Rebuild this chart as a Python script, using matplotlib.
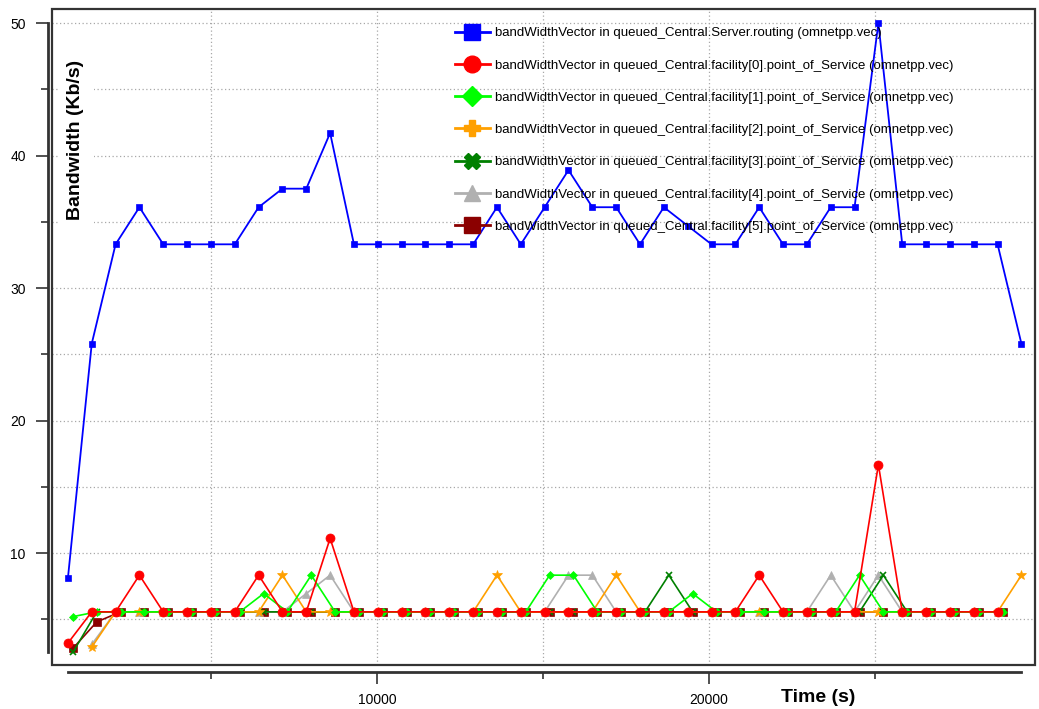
import numpy as np
import matplotlib
matplotlib.use("Agg")
import matplotlib.pyplot as plt
from matplotlib.ticker import MultipleLocator
from matplotlib.lines import Line2D
from matplotlib.patches import Rectangle

plt.rcParams['font.family'] = ['Liberation Sans', 'DejaVu Sans']

nan = np.nan

# ---------------- data ----------------
times = [690, 1408, 2126, 2844, 3562, 4280, 4998, 5716, 6434, 7152,
         7870, 8588, 9306, 10024, 10742, 11460, 12178, 12896, 13614, 14332,
         15050, 15768, 16486, 17204, 17922, 18640, 19358, 20076, 20794, 21512,
         22230, 22948, 23666, 24384, 25102, 25820, 26538, 27256, 27974, 28692,
         29410]

server_routing = [8.1, 25.8, 33.3, 36.1, 33.3, 33.3, 33.3, 33.3, 36.1, 37.5,
                  37.5, 41.7, 33.3, 33.3, 33.3, 33.3, 33.3, 33.3, 36.1, 33.3,
                  36.1, 38.9, 36.1, 36.1, 33.3, 36.1, 34.7, 33.3, 33.3, 36.1,
                  33.3, 33.3, 36.1, 36.1, 50.0, 33.3, 33.3, 33.3, 33.3, 33.3,
                  25.8]

facility0 = [3.2, 5.56, 5.56, 8.33, 5.56, 5.56, 5.56, 5.56, 8.33, 5.56,
             5.56, 11.11, 5.56, 5.56, 5.56, 5.56, 5.56, 5.56, 5.56, 5.56,
             5.56, 5.56, 5.56, 5.56, 5.56, 5.56, 5.56, 5.56, 5.56, 8.33,
             5.56, 5.56, 5.56, 5.56, 16.67, 5.56, 5.56, 5.56, 5.56, 5.56,
             nan]

facility1 = [5.2, 5.56, 5.56, 5.56, 5.56, 5.56, 5.56, 5.56, 6.94, 5.56,
             8.33, 5.56, 5.56, 5.56, 5.56, 5.56, 5.56, 5.56, 5.56, 5.56,
             8.33, 8.33, 5.56, 5.56, 5.56, 5.56, 6.94, 5.56, 5.56, 5.56,
             5.56, 5.56, 5.56, 8.33, 5.56, 5.56, 5.56, 5.56, 5.56, 5.56,
             nan]

facility2 = [nan, 2.9, 5.56, 5.56, 5.56, 5.56, 5.56, 5.56, 5.56, 8.33,
             5.56, 5.56, 5.56, 5.56, 5.56, 5.56, 5.56, 5.56, 8.33, 5.56,
             5.56, 5.56, 5.56, 8.33, 5.56, 5.56, 5.56, 5.56, 5.56, 5.56,
             5.56, 5.56, 5.56, 5.56, 5.56, 5.56, 5.56, 5.56, 5.56, 5.56,
             8.33]

facility3 = [2.5, 5.56, 5.56, 5.56, 5.56, 5.56, 5.56, 5.56, 5.56, 5.56,
             5.56, 5.56, 5.56, 5.56, 5.56, 5.56, 5.56, 5.56, 5.56, 5.56,
             5.56, 5.56, 5.56, 5.56, 5.56, 8.33, 5.56, 5.56, 5.56, 5.56,
             5.56, 5.56, 5.56, 5.56, 8.33, 5.56, 5.56, 5.56, 5.56, 5.56,
             nan]

facility4 = [nan, 3.1, 5.56, 5.56, 5.56, 5.56, 5.56, 5.56, 5.56, 5.56,
             6.94, 8.33, 5.56, 5.56, 5.56, 5.56, 5.56, 5.56, 5.56, 5.56,
             5.56, 8.33, 8.33, 5.56, 5.56, 5.56, 5.56, 5.56, 5.56, 5.56,
             5.56, 5.56, 8.33, 5.56, 8.33, 5.56, 5.56, 5.56, 5.56, 5.56,
             nan]

facility5 = [2.8, 4.8, 5.56, 5.56, 5.56, 5.56, 5.56, 5.56, 5.56, 5.56,
             5.56, 5.56, 5.56, 5.56, 5.56, 5.56, 5.56, 5.56, 5.56, 5.56,
             5.56, 5.56, 5.56, 5.56, 5.56, 5.56, 5.56, 5.56, 5.56, 5.56,
             5.56, 5.56, 5.56, 5.56, 5.56, 5.56, 5.56, 5.56, 5.56, 5.56,
             nan]

labels = [
    "bandWidthVector in queued_Central.Server.routing (omnetpp.vec)",
    "bandWidthVector in queued_Central.facility[0].point_of_Service (omnetpp.vec)",
    "bandWidthVector in queued_Central.facility[1].point_of_Service (omnetpp.vec)",
    "bandWidthVector in queued_Central.facility[2].point_of_Service (omnetpp.vec)",
    "bandWidthVector in queued_Central.facility[3].point_of_Service (omnetpp.vec)",
    "bandWidthVector in queued_Central.facility[4].point_of_Service (omnetpp.vec)",
    "bandWidthVector in queued_Central.facility[5].point_of_Service (omnetpp.vec)",
]
series = [server_routing, facility0, facility1, facility2, facility3, facility4, facility5]

# ---------------- styles ----------------
colors = ['#0000FF', '#FF0000', '#00FF00', '#FFA000', '#008000', '#B0B0B0', '#8B0000']
plot_markers = ['s', 'o', 'D', '*', 'x', '^', 's']
plot_msizes = [5, 6.5, 4.5, 7, 5, 5.5, 5.5]
legend_markers = ['s', 'o', 'D', 'P', 'X', '^', 's']
legend_msizes = [12, 12, 10, 12, 12, 11, 12]
time_shift = [0, 0, 150, 0, 150, 0, 150]
line_widths = [1.3, 1.2, 1.2, 1.2, 1.2, 1.2, 1.2]

W, H = 1039, 709
fig = plt.figure(figsize=(W / 100, H / 100), dpi=100)
ax = fig.add_axes([52 / W, 1 - 665 / H, (1035 - 52) / W, (665 - 9) / H])

t = np.array(times, dtype=float)
for i in reversed(range(len(series))):
    y = np.array(series[i], dtype=float)
    ax.plot(t + time_shift[i], y, color=colors[i], lw=line_widths[i],
            marker=plot_markers[i], ms=plot_msizes[i],
            mec=colors[i], mfc=colors[i], mew=1.2 if plot_markers[i] == 'x' else 0.5,
            zorder=3 + (len(series) - i) * 0.1)

ax.set_xlim(211, 29819)
ax.set_ylim(1.55, 51.06)

# grid
ax.xaxis.set_major_locator(MultipleLocator(10000))
ax.xaxis.set_minor_locator(MultipleLocator(5000))
ax.yaxis.set_major_locator(MultipleLocator(10))
ax.yaxis.set_minor_locator(MultipleLocator(5))
ax.grid(True, which='both', linestyle=(0, (1, 2)), color='#a8a8a8', lw=0.9, zorder=0)
ax.set_axisbelow(True)

# offset axes lines
for s in ['top', 'right']:
    ax.spines[s].set_visible(False)
ax.spines['left'].set_position(('outward', 2.9))
ax.spines['bottom'].set_position(('outward', 5.0))
all_vals = np.concatenate([np.array(s, dtype=float) for s in series])
ax.spines['left'].set_bounds(np.nanmin(all_vals), np.nanmax(all_vals))
ax.spines['bottom'].set_bounds(times[0], times[-1])
for s in ['left', 'bottom']:
    ax.spines[s].set_color('#333333')
    ax.spines[s].set_linewidth(2.0)

ax.tick_params(which='major', direction='out', length=8.5, width=1.2, color='#333333',
               labelsize=10, pad=6.5)
ax.tick_params(which='minor', direction='out', length=5, width=1.2, color='#333333')
ax.tick_params(axis='y', which='major', pad=7.5)

# frame
ax.add_patch(Rectangle((0, 0), 1, 1, transform=ax.transAxes, fill=False,
                       edgecolor='#333333', lw=1.6, clip_on=False, zorder=10))

# axis titles
fig.text(76 / W, 1 - 140 / H, "Bandwidth (Kb/s)", rotation=90, ha='center', va='center',
         fontsize=14, fontweight='bold',
         bbox=dict(boxstyle='square,pad=0.5', fc='white', ec='none'))
fig.text(818 / W, 1 - 697 / H, "Time (s)", ha='center', va='center',
         fontsize=14, fontweight='bold')

# legend
handles = [Line2D([0], [0], color=colors[i], lw=2, marker=legend_markers[i],
                  ms=legend_msizes[i], mfc=colors[i], mec=colors[i])
           for i in range(len(series))]
leg = fig.legend(handles, labels, loc='upper left',
                 bbox_to_anchor=(455 / W, 1 - 27 / H), frameon=False,
                 fontsize=9.5, handlelength=2.65, handletextpad=0.38,
                 labelspacing=1.52, borderpad=0, borderaxespad=0)
leg.set_zorder(20)

fig.savefig("out.png", dpi=100)
